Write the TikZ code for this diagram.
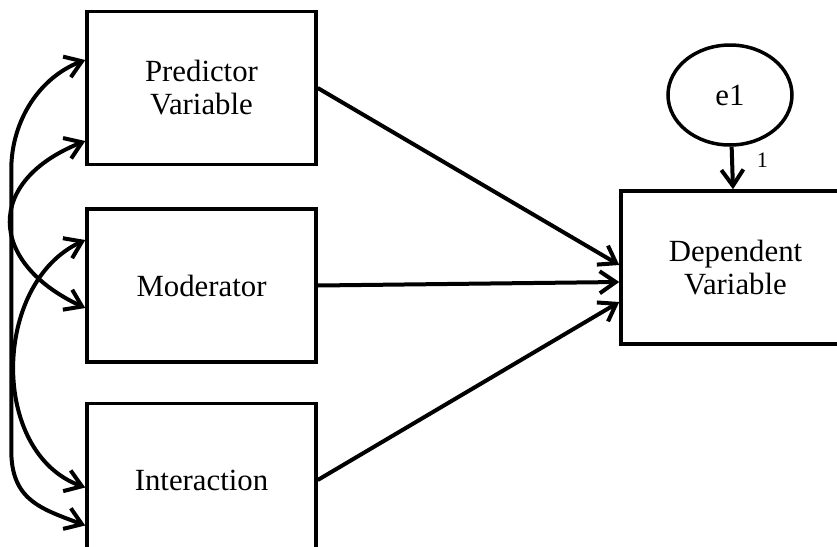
\documentclass[tikz,border=0pt]{standalone}
\usepackage{fontspec}
\setmainfont{Liberation Serif}
\usepackage{tikz}
\usetikzlibrary{arrows.meta}
\usetikzlibrary{positioning, shapes.geometric}

\begin{document}
\begin{tikzpicture} [
	x=0.5pt, y=-0.5pt, % one unit is one pixel of the drawing, y runs down
	line width=1.75pt, % all lines are thick
	>={Straight Barb[length=8pt, width=11pt]}, % open arrow heads
	every node/.style={font=\fontsize{15.4}{16.5}\selectfont},
	var/.style={draw, rectangle, minimum width=114.5pt, minimum height=76.5pt, align=center, inner sep=0pt}, % observed variables
	err/.style={draw, ellipse, minimum width=62pt, minimum height=50pt, inner sep=0pt}, % error term
	path/.style={->, line width=2pt}, % regression paths
	cov/.style={<->, line width=2pt}, % covariances
	]
	\useasboundingbox (0,0) rectangle (837,547);
	\clip (0,0) rectangle (837,547);

	\node[var] (pv) at (201.5,88) {Predictor\\Variable};
	\node[var, below=20.5pt of pv] (mod) {Moderator};
	\node[var, below=19pt of mod] (int) {Interaction};
	\node[var] (dv) at (735.5,267.5) {Dependent\\Variable};
	\node[err] (e1) at (730,95) {e1};

	% paths
	\draw[path] (pv.east) -- ([yshift=1.25pt]dv.west);
	\draw[path] (mod.east) -- ([yshift=-7.25pt]dv.west);
	\draw[path] (int.east) -- ([yshift=-17.25pt]dv.west);
	\draw[path] (e1) -- (dv) node[midway, xshift=15pt, yshift=3.75pt, font=\fontsize{11}{13}\selectfont] {1};

	% covariances
	\draw[cov] ([yshift=14pt]pv.west) .. controls +(-45,17) and +(0,-50) .. ++(-74,110)
		-- ++(0,280) .. controls +(0,50) and +(-45,-17) .. ([yshift=-22.75pt]int.west);
	\draw[cov] ([yshift=-26.5pt]pv.west) .. controls +(-100,40) and +(-98,-46) .. ([yshift=-11.25pt]mod.west);
	\draw[cov] ([yshift=22.75pt]mod.west) .. controls +(-93,43) and +(-96,-35) .. ([yshift=-3.75pt]int.west);
\end{tikzpicture}
\end{document}
